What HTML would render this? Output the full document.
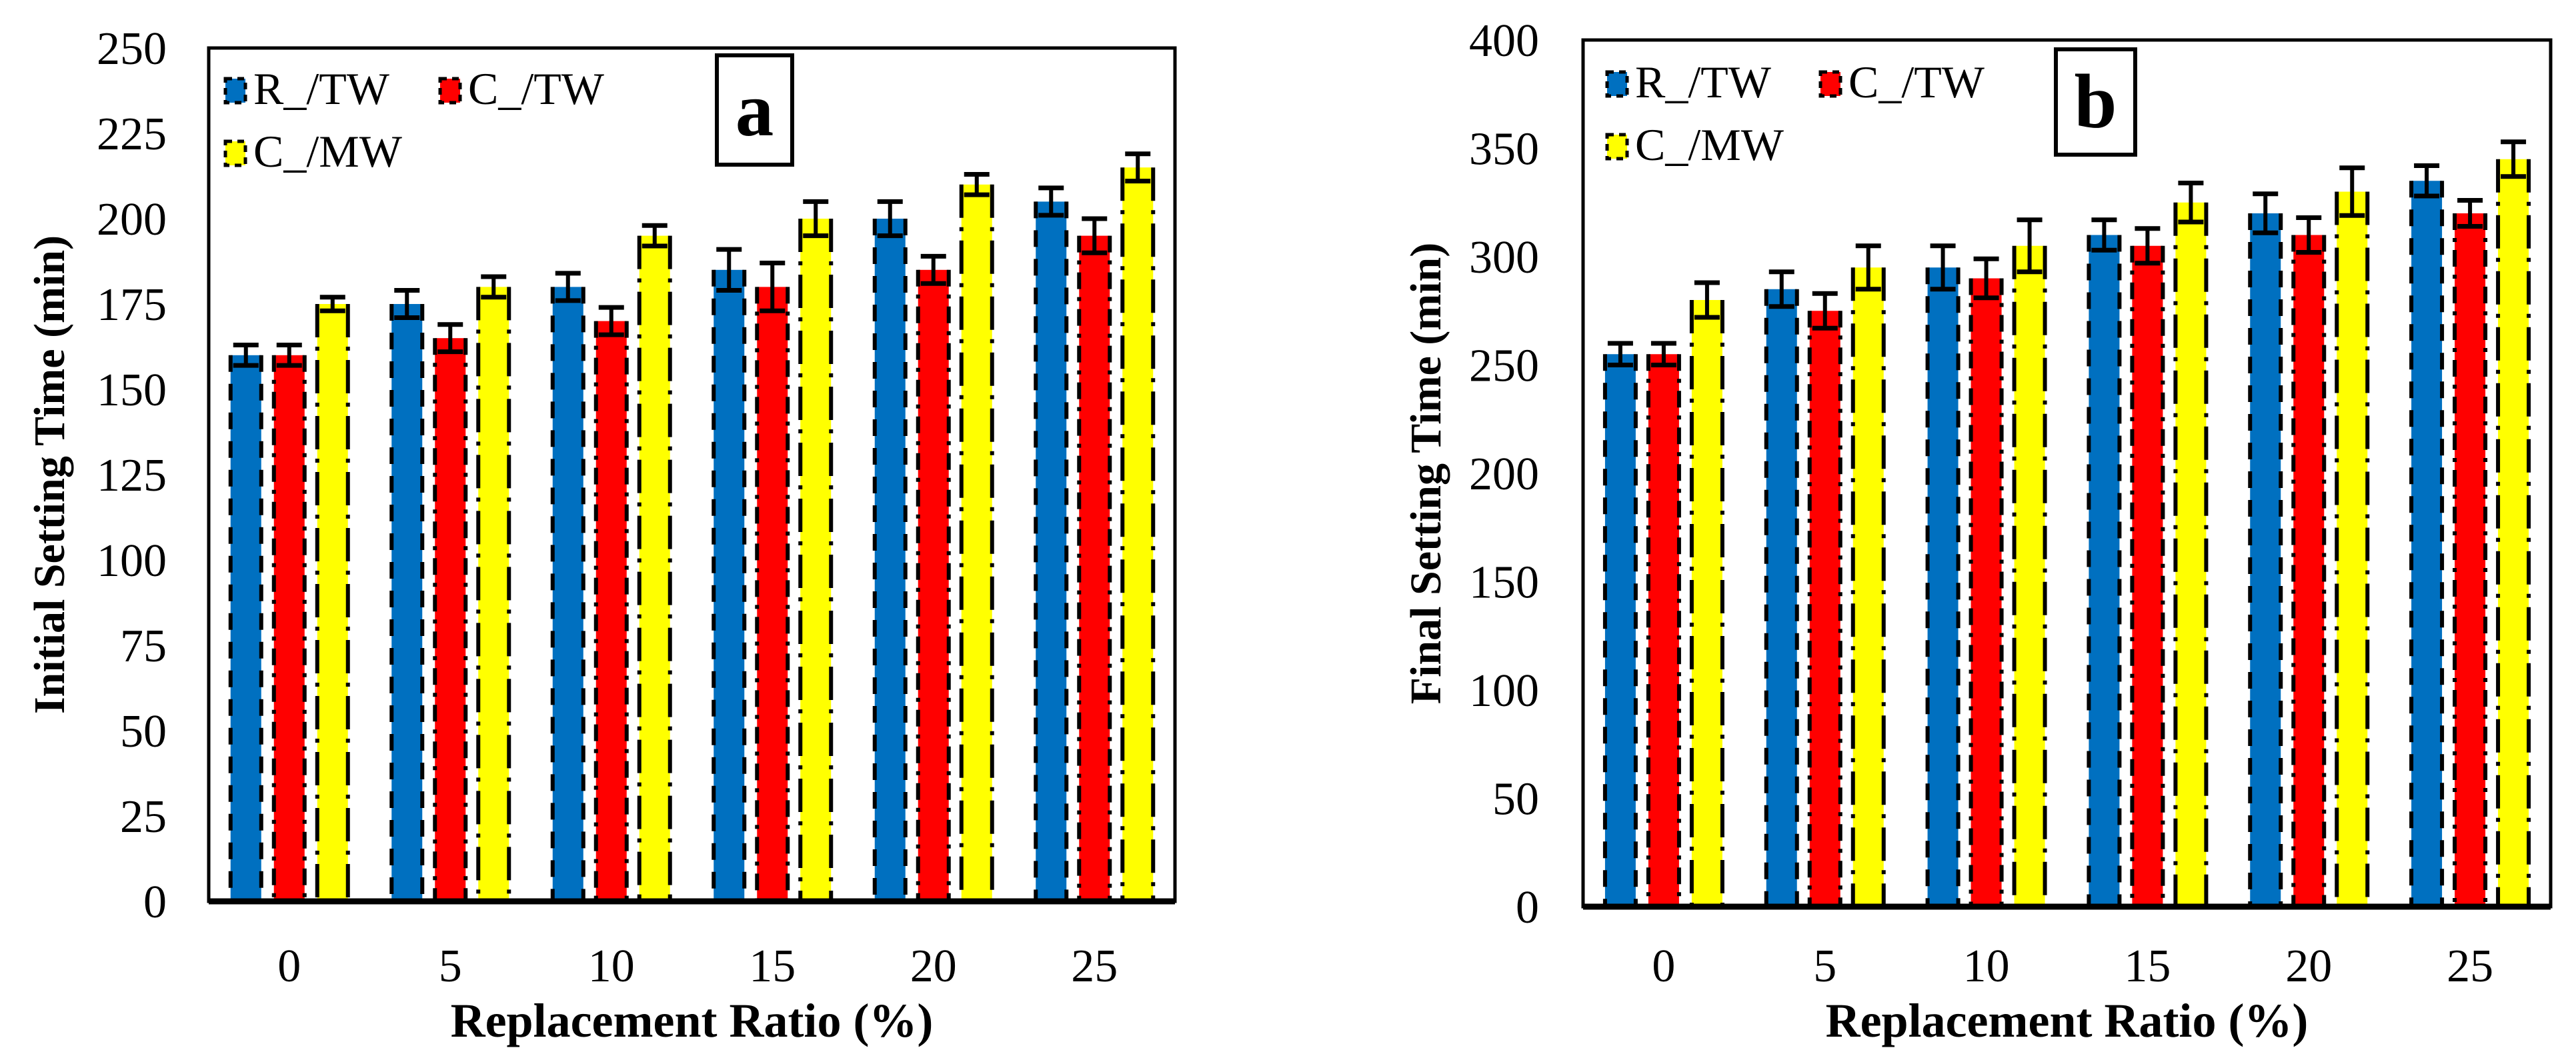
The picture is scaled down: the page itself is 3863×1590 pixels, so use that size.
<!DOCTYPE html>
<html><head><meta charset="utf-8"><style>
html,body{margin:0;padding:0;background:#fff;}
svg{display:block;font-family:"Liberation Serif",serif;}
</style></head><body>
<svg id="svg" width="3863" height="1590" viewBox="0 0 3863 1590" xmlns="http://www.w3.org/2000/svg"></svg>
<script>
const categories = ["0","5","10","15","20","25"];
const seriesNames = ["R_/TW","C_/TW","C_/MW"];
const aR = [160,175,180,185,200,205];
const aC = [160,165,170,180,185,195];
const aM = [175,180,195,200,210,215];
const aRerr = [3,4,4,6,5,4];
const aCerr = [3,4,4,7,4,5];
const aMerr = [2,3,3,5,3,4];
const aTicks = [0,25,50,75,100,125,150,175,200,225,250];
const bR = [255,285,295,310,320,335];
const bC = [255,275,290,305,310,320];
const bM = [280,295,305,325,330,345];
const bRerr = [5,8,10,7,9,7];
const bCerr = [5,8,9,8,8,6];
const bMerr = [8,10,12,9,11,8];
const bTicks = [0,50,100,150,200,250,300,350,400];

const NS="http://www.w3.org/2000/svg";
const svg=document.getElementById('svg');
const colors=["#0070C0","#FF0000","#FFFF00"];
const dashes=["25,18","25,12,6,12","50,14,6,14"];
function mk(tag,attrs,parent){const e=document.createElementNS(NS,tag);for(const k in attrs)e.setAttribute(k,attrs[k]);(parent||svg).appendChild(e);return e;}

function chart(cfg){
  const g=mk('g',{});
  
  
  const L=cfg.left,R=cfg.right,T=cfg.top,B=cfg.bottom,max=cfg.max;
  const y=v=>B-(v/max)*(B-T);
  const bandW=(R-L)/categories.length;
  const x=i=>L+(i+0.5)*bandW;
  // y ticks
  cfg.ticks.forEach(t=>{
    const tx=mk('text',{x:cfg.tickRight,y:y(t)+24,'text-anchor':'end','font-size':70},g);
    tx.textContent=t;
    
    
  });
  categories.forEach((c,i)=>{
    const tx=mk('text',{x:x(i),y:1472,'text-anchor':'middle','font-size':70},g);
    tx.textContent=c;
    
    
  });
  const vals=[cfg.r,cfg.c,cfg.m], errs=[cfg.re,cfg.ce,cfg.me];
  const offs=[-65,0,65], bw=46;
  vals.forEach((arr,s)=>{
    arr.forEach((v,i)=>{
      const cx=x(i)+offs[s], x0=cx-bw/2, yt=y(v);
      const r=mk('rect',{x:x0,y:yt,width:bw,height:B-yt,fill:colors[s]},g);
      
      
      mk('line',{x1:x0,y1:yt,x2:x0,y2:B,stroke:'#000','stroke-width':6,'stroke-dasharray':dashes[s]},g);
      mk('line',{x1:x0+bw,y1:yt,x2:x0+bw,y2:B,stroke:'#000','stroke-width':6,'stroke-dasharray':dashes[s]},g);
      const e=errs[s][i], y1=y(v+e), y2=y(v-e);
      const eb=mk('g',{},g);
      
      
      mk('line',{x1:cx,y1:y1,x2:cx,y2:y2,stroke:'#000','stroke-width':6},eb);
      mk('line',{x1:cx-19,y1:y1,x2:cx+19,y2:y1,stroke:'#000','stroke-width':7},eb);
      mk('line',{x1:cx-19,y1:y2,x2:cx+19,y2:y2,stroke:'#000','stroke-width':7},eb);
    });
  });
  // frame
  const f=mk('rect',{x:L,y:T,width:R-L,height:B-T,fill:'none',stroke:'#000','stroke-width':5},g);
  
  
  mk('line',{x1:L,y1:B,x2:R,y2:B,stroke:'#000','stroke-width':9},g);
  // legend
  cfg.legend.forEach((p,s)=>{
    const lg=mk('g',{},g);
    
    
    mk('rect',{x:p[0],y:p[1],width:30,height:36,fill:colors[s],stroke:'#000','stroke-width':5,'stroke-dasharray':'10,8'},lg);
    const t=mk('text',{x:p[0]+42,y:p[1]+38,'font-size':68},lg);
    t.textContent=seriesNames[s];
  });
  // label box
  const bx=cfg.box;
  const lb=mk('g',{},g);
  
  
  mk('rect',{x:bx[0],y:bx[1],width:bx[2],height:bx[3],fill:'#fff',stroke:'#000','stroke-width':6},lb);
  const lt=mk('text',{x:bx[0]+bx[2]/2,y:bx[1]+bx[3]/2+38,'text-anchor':'middle','font-size':115,'font-weight':'bold'},lb);
  lt.textContent=cfg.letter;
  // titles
  const xt=mk('text',{x:(L+R)/2,y:1555,'text-anchor':'middle','font-size':72,'font-weight':'bold'},g);
  xt.textContent='Replacement Ratio (%)';
  
  
  const yt=mk('text',{x:0,y:0,'text-anchor':'middle','font-size':66,'font-weight':'bold',transform:`translate(${cfg.ytX},${(T+B)/2}) rotate(-90)`},g);
  yt.textContent=cfg.ytitle;
  
  
}
chart({name:'chart-a-initial-setting',left:313,right:1762,top:72,bottom:1352,max:250,ticks:aTicks,tickRight:250,
  r:aR,c:aC,m:aM,re:aRerr,ce:aCerr,me:aMerr,
  legend:[[338,118],[660,118],[338,212]],box:[1075,83,113,164],letter:'a',ytX:96,ytitle:'Initial Setting Time (min)'});
chart({name:'chart-b-final-setting',left:2374,right:3825,top:60,bottom:1360,max:400,ticks:bTicks,tickRight:2308,
  r:bR,c:bC,m:bM,re:bRerr,ce:bCerr,me:bMerr,
  legend:[[2410,108],[2730,108],[2410,202]],box:[3083,74,119,158],letter:'b',ytX:2160,ytitle:'Final Setting Time (min)'});
</script>
</body></html>
